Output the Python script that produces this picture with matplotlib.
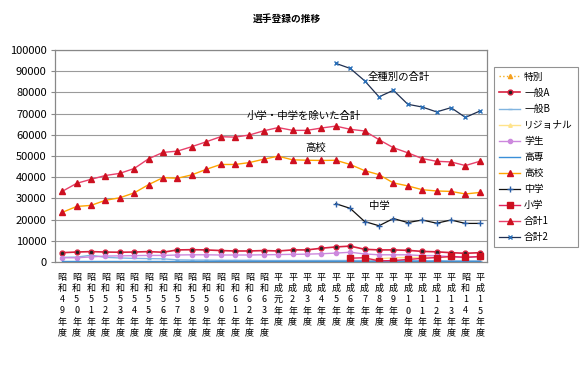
import numpy as np
import matplotlib
matplotlib.use("Agg")
import matplotlib.pyplot as plt

plt.rcParams['font.family'] = ['Noto Sans CJK JP', 'DejaVu Sans']

# ======================================================
# DATA
# ======================================================

years = (["昭和%d年度" % y for y in range(49, 64)] + ["平成元年度"] +
         ["平成%d年度" % y for y in range(2, 14)] + ["昭和14年度", "平成15年度"])

nan = np.nan
tokubetsu = [nan] * 21 + [150, 150, 150, 150, 150, 150, 150, 150, 150]
ippan_a = [4400, 4700, 4900, 4700, 4600, 4700, 4900, 4600, 5700, 5800,
           5700, 5400, 5200, 5200, 5400, 5200, 5700, 5700, 6500, 7100,
           7500, 6000, 5700, 5700, 5500, 5000, 4800, 4400, 4100, 4400]
ippan_b = [2200, 2300, 3200, 2200, 1900, 1700, 1600, 1500, 1000, 900,
           900, 800, 800, 800, 700, 700, 700, 700, 700, 700,
           700, 700, 600, 600, 600, 600, 600, 500, 500, 500]
regional = [nan] * 21 + [900, 1500, 2000, 2100, 2100, 2200, 2200, 2200, 2300]
gakusei = [2000, 2000, 2400, 2800, 2900, 3000, 3100, 3100, 3300, 3400,
           3400, 3300, 3300, 3300, 3400, 3500, 3600, 3700, 3900, 4200,
           4600, 3800, 3400, 3400, 3400, 3000, 3000, 2500, 2200, 2500]
kosen = [300] * 30
koko = [23400, 26200, 26700, 29100, 30300, 32600, 36500, 39800, 39500, 41100,
        43700, 46000, 46000, 46900, 48500, 49900, 48200, 48000, 47900, 48000,
        46000, 43100, 41200, 37300, 35900, 34100, 33500, 33300, 32100, 32800]
chugaku = [nan] * 19 + [27500, 25300, 19100, 17100, 20500, 18600, 19800, 18300, 19800, 18200, 18200]
shogaku = [nan] * 20 + [1800, 2000, 500, 700, 1200, 1700, 2100, 2600, 2200, 2600]
total1 = [33300, 37100, 39000, 40800, 41800, 44100, 48700, 51700, 52300, 54400,
          56700, 59100, 58900, 59900, 61900, 63400, 62100, 62100, 63200, 64100,
          62600, 61800, 57700, 53900, 51500, 48800, 47500, 47200, 45500, 47500]
total2 = [nan] * 19 + [93700, 91300, 85500, 77900, 81000, 74400, 73100, 70800, 72800, 68200, 71200]

# ======================================================
# PLOT
# ======================================================

fig = plt.figure(figsize=(5.8, 3.69), dpi=100)
ax = fig.add_axes([55 / 580, 1 - 262 / 369, 432 / 580, 212 / 369])
x = np.arange(len(years))

ax.plot(x, tokubetsu, color="#F5B020", ls=":", lw=1, marker="^", ms=3,
        mfc="#F5A020", mec="#F5A020", label="特別")
ax.plot(x, ippan_a, color="#D8203F", lw=1.2, marker="o", ms=3.5,
        mfc="#222222", mec="#D8203F", label="一般A")
ax.plot(x, ippan_b, color="#80B4E0", lw=1, marker="_", ms=3,
        label="一般B")
ax.plot(x, regional, color="#FFE38A", lw=1, marker="^", ms=2.5,
        label="リジョナル")
ax.plot(x, gakusei, color="#CC88DD", lw=1, marker="o", ms=3,
        label="学生")
ax.plot(x, kosen, color="#3A8FD8", lw=1, label="高専")
ax.plot(x, koko, color="#FFA500", lw=1, marker="^", ms=4,
        mfc="#D01020", mec="#D01020", label="高校")
ax.plot(x, chugaku, color="#111111", lw=0.9, marker="+", ms=4,
        mec="#2A5FA8", label="中学")
ax.plot(x, shogaku, color="#E0205A", lw=1, marker="s", ms=4,
        mfc="#CC1020", mec="#CC1020", label="小学")
ax.plot(x, total1, color="#E8406A", lw=1, marker="^", ms=4,
        mfc="#CC1020", mec="#CC1020", label="合計1")
ax.plot(x, total2, color="#1F2F50", lw=0.9, marker="x", ms=3.5,
        mec="#2A6FB8", label="合計2")

ax.set_xlim(-0.5, len(years) - 0.5)
ax.set_ylim(0, 100000)
ax.set_yticks(np.arange(0, 100001, 10000))
ax.set_xticks(x)
ax.set_xticklabels(["\n".join(s) for s in years], fontsize=6.5,
                   linespacing=1.3, va="top")
ax.tick_params(axis="y", labelsize=8, length=3, pad=3, color="#888888")
ax.tick_params(axis="x", length=0, pad=8)
ax.grid(axis="y", color="#9A9A9A", lw=0.8)
ax.set_axisbelow(True)
for s in ax.spines.values():
    s.set_color("#888888")
    s.set_linewidth(0.9)

# annotations
ax.text(21.2, 86000, "全種別の合計", fontsize=7.5)
ax.text(12.8, 67300, "小学・中学を除いた合計", fontsize=7.5)
ax.text(16.9, 52500, "高校", fontsize=7.5)
ax.text(21.3, 25200, "中学", fontsize=7.5)

fig.text(287 / 580, 1 - 19 / 369, "選手登録の推移", fontsize=7,
         fontweight="bold", ha="center", va="center")

leg = fig.legend(loc="upper left", bbox_to_anchor=(494 / 580, 1 - 67 / 369),
                 fontsize=7, frameon=True, fancybox=False, edgecolor="#777777",
                 labelspacing=0.62, handlelength=2.2, borderpad=0.5,
                 handletextpad=0.4, borderaxespad=0)
leg.get_frame().set_linewidth(0.8)

fig.savefig("out.png", dpi=100)
